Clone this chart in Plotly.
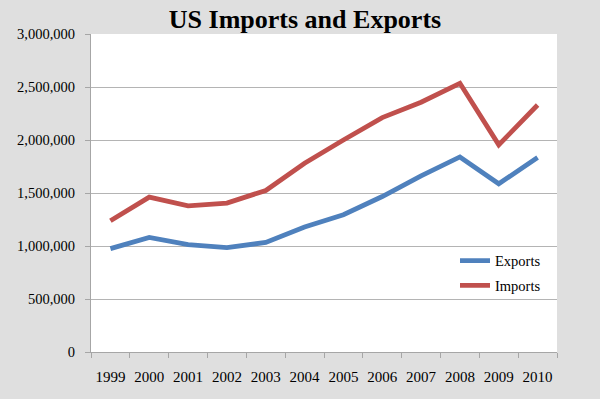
import plotly.graph_objects as go

years = ["1999", "2000", "2001", "2002", "2003", "2004", "2005", "2006", "2007", "2008", "2009", "2010"]
exports = [975000, 1081000, 1012000, 984000, 1034000, 1180000, 1295000, 1467000, 1662000, 1840000, 1587000, 1834000]
imports = [1238000, 1461000, 1379000, 1405000, 1524000, 1781000, 2000000, 2211000, 2356000, 2535000, 1954000, 2330000]

BLUE = "#4F81BD"
RED = "#C0504D"
BG = "#dfdfdf"
GRID = "#b4b4b4"
FONT = "Liberation Serif"

W, H = 600, 399
L, R, T, B = 91, 43, 34, 46.5

fig = go.Figure()
fig.add_trace(go.Scatter(x=years, y=exports, name="Exports", mode="lines", legendgroup="e",
                         line=dict(color=BLUE, width=4.8)))
fig.add_trace(go.Scatter(x=years, y=imports, name="Imports", mode="lines", legendgroup="i",
                         line=dict(color=RED, width=4.8)))

pw = W - L - R
ph = H - T - B

fig.update_layout(
    width=W, height=H,
    margin=dict(l=L, r=R, t=T, b=B, pad=0, autoexpand=False),
    paper_bgcolor=BG, plot_bgcolor="white",
    font=dict(family=FONT, color="#000000", size=14),
    title=dict(text="<b>US Imports and Exports</b>", font=dict(family=FONT, size=26, color="#000000"),
               x=305 / W, xanchor="center", xref="container",
               y=1 - 19 / H, yanchor="middle", yref="container"),
    showlegend=True,
    legend=dict(x=(455 - L) / pw, xanchor="left", y=1 - (245 - T) / ph, yanchor="top",
                bgcolor="rgba(0,0,0,0)", font=dict(family=FONT, size=14.5, color="#000000"),
                tracegroupgap=3),
    xaxis=dict(type="category", showgrid=False, showline=True, linecolor="#a6a6a6", linewidth=1,
               ticks="outside", tickson="boundaries", ticklen=5, tickcolor="#a6a6a6",
               tickangle=0, automargin=False,
               tickfont=dict(family=FONT, size=15, color="#000000"), ticklabelstandoff=11,
               range=[-0.5, 11.5], fixedrange=True),
    yaxis=dict(range=[0, 3000000], dtick=500000, tickformat=",", showgrid=True, gridcolor=GRID,
               gridwidth=1, showline=True, linecolor="#a6a6a6", linewidth=1, ticks="outside",
               ticklen=5, tickcolor="#a6a6a6", zeroline=False, automargin=False,
               tickfont=dict(family=FONT, size=14.5, color="#000000"), ticklabelstandoff=7),
)

fig.write_html("out.html", config={"displayModeBar": False},
               post_script="document.body.style.margin='0px';document.body.style.overflow='hidden';")
